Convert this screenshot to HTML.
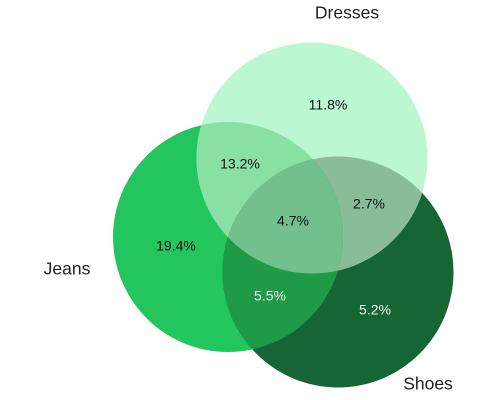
<!DOCTYPE html>
<html><head><meta charset="utf-8"><style>
html,body{margin:0;padding:0;background:#fff;}
svg{display:block;font-family:"Liberation Sans",sans-serif;}
</style></head><body>
<svg id="chart" width="500" height="400">
<defs>
<clipPath id="cJ"><circle cx="228" cy="237" r="115"/></clipPath>
<clipPath id="cD"><circle cx="312" cy="158" r="115.5"/></clipPath>
<clipPath id="cS"><circle cx="338" cy="272" r="115.5"/></clipPath>
</defs>
<g id="circles"></g>
<g id="labels"></g>
</svg>
<script>
const setNames = ["Jeans","Dresses","Shoes"];
const regionLabels = ["19.4%","11.8%","5.2%","13.2%","5.5%","2.7%","4.7%"];
const regionValues = [19.4,11.8,5.2,13.2,5.5,2.7,4.7];

const NS="http://www.w3.org/2000/svg";
const circ={Jeans:[228,237,115],Dresses:[312,158,115.5],Shoes:[338,272,115.5]};
const fills={Jeans:"#22c55e",Dresses:"#bbf7d0",Shoes:"#166534"};
const g=document.getElementById('circles');
function circle(name,fill,clips,dn){
  let parent=g;
  clips.forEach(c=>{const gg=document.createElementNS(NS,'g');gg.setAttribute('clip-path','url(#'+c+')');parent.appendChild(gg);parent=gg;});
  const [x,y,r]=circ[name];
  const el=document.createElementNS(NS,'circle');
  el.setAttribute('cx',x);el.setAttribute('cy',y);el.setAttribute('r',r);el.setAttribute('fill',fill);
  
  
  parent.appendChild(el);
}
circle('Jeans',fills.Jeans,[],'jeans-circle');
circle('Shoes',fills.Shoes,[],'shoes-circle');
circle('Dresses',fills.Dresses,[],'dresses-circle');
circle('Jeans','#8adfa5',['cD'],'jeans-dresses-overlap');
circle('Shoes','#88bd98',['cD'],'dresses-shoes-overlap');
circle('Jeans','#1f9b48',['cS'],'jeans-shoes-overlap');
circle('Jeans','#72c08b',['cS','cD'],'all-overlap');

const L=document.getElementById('labels');
const pos=[[176,247],[328,106],[375,311],[240,165],[270,297],[369,205],[293,222]];
const col=["#111","#111","#eee","#111","#eee","#111","#111"];
regionLabels.forEach((t,i)=>{
  const el=document.createElementNS(NS,'text');
  el.setAttribute('x',pos[i][0]);el.setAttribute('y',pos[i][1]);
  el.setAttribute('text-anchor','middle');el.setAttribute('dominant-baseline','middle');
  el.setAttribute('font-size','14');el.setAttribute('fill',col[i]);
  el.textContent=t;
  
  
  L.appendChild(el);
});
const npos=[[67,270],[347,14],[428,385]];
setNames.forEach((t,i)=>{
  const el=document.createElementNS(NS,'text');
  el.setAttribute('x',npos[i][0]);el.setAttribute('y',npos[i][1]);
  el.setAttribute('text-anchor','middle');el.setAttribute('dominant-baseline','middle');
  el.setAttribute('font-size','17.5');el.setAttribute('fill','#222');
  el.textContent=t;
  
  
  L.appendChild(el);
});
</script>
</body></html>
